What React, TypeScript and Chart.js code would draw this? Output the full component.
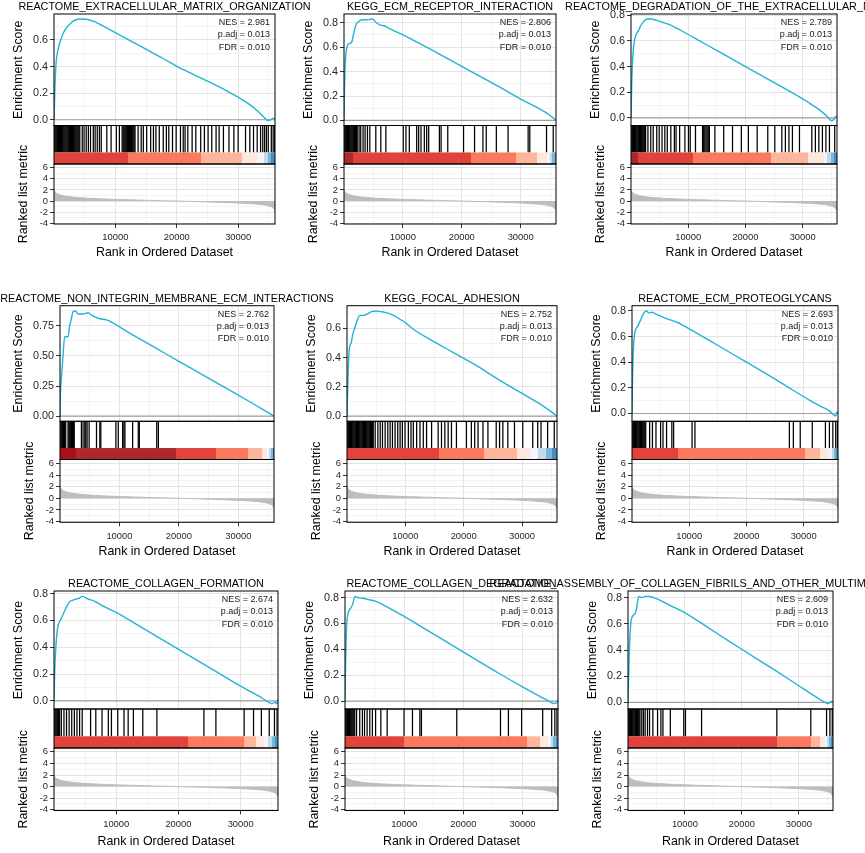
import { useEffect, useRef } from 'react'
import Chart from 'chart.js/auto'

const FONT = "'Liberation Sans', Arial, Helvetica, sans-serif"
Chart.defaults.font.family = FONT

const N_GENES = 36000

const TITLES = [
  'REACTOME_EXTRACELLULAR_MATRIX_ORGANIZATION',
  'KEGG_ECM_RECEPTOR_INTERACTION',
  'REACTOME_DEGRADATION_OF_THE_EXTRACELLULAR_MATRIX',
  'REACTOME_NON_INTEGRIN_MEMBRANE_ECM_INTERACTIONS',
  'KEGG_FOCAL_ADHESION',
  'REACTOME_ECM_PROTEOGLYCANS',
  'REACTOME_COLLAGEN_FORMATION',
  'REACTOME_COLLAGEN_DEGRADATION',
  'REACTOME_ASSEMBLY_OF_COLLAGEN_FIBRILS_AND_OTHER_MULTIMERIC_STRUCTURES',
]
const NES = ['2.981', '2.806', '2.789', '2.762', '2.752', '2.693', '2.674', '2.632', '2.609']
const P_ADJ = ['0.013', '0.013', '0.013', '0.013', '0.013', '0.013', '0.013', '0.013', '0.013']
const FDR = ['0.010', '0.010', '0.010', '0.010', '0.010', '0.010', '0.010', '0.010', '0.010']

// x grid positions (minor + major) and the labelled ones
const X_GRID = [5000, 10000, 15000, 20000, 25000, 30000, 35000]
const X_LABELS = [10000, 20000, 30000]
const RANK_LABELS = [-4, -2, 0, 2, 4, 6]

// running enrichment score [rank, ES]
const esP1 = [[0, 0], [160, 0.25], [330, 0.42], [540, 0.5], [820, 0.56], [1100, 0.6], [1600, 0.66], [2200, 0.7], [2800, 0.73], [3500, 0.75], [4300, 0.757], [5200, 0.756], [6500, 0.74], [8200, 0.7], [10000, 0.655], [12000, 0.605], [14000, 0.555], [16000, 0.505], [18000, 0.455], [20100, 0.4], [22500, 0.345], [25000, 0.29], [27000, 0.245], [28800, 0.2], [30500, 0.155], [32000, 0.11], [33300, 0.06], [34300, 0.015], [34800, -0.005], [35300, 0.0], [35700, 0.012], [36000, 0.0]]
const esP2 = [[0, 0], [100, 0.3], [250, 0.5], [500, 0.6], [900, 0.63], [1300, 0.64], [1600, 0.7], [2000, 0.78], [2500, 0.81], [3000, 0.825], [4000, 0.825], [4800, 0.83], [5500, 0.8], [6200, 0.78], [6800, 0.775], [8000, 0.745], [10000, 0.7], [14000, 0.6], [18000, 0.495], [22000, 0.39], [26000, 0.285], [30000, 0.175], [33000, 0.1], [35000, 0.04], [36000, 0.0]]
const esP3 = [[0, 0], [150, 0.3], [350, 0.5], [600, 0.6], [900, 0.65], [1300, 0.68], [1700, 0.72], [2200, 0.75], [2800, 0.77], [3500, 0.77], [4500, 0.76], [5500, 0.745], [6500, 0.73], [7500, 0.71], [9000, 0.675], [12000, 0.6], [16000, 0.5], [20000, 0.4], [24000, 0.3], [28000, 0.2], [31000, 0.12], [33000, 0.06], [34300, 0.01], [35000, -0.02], [35500, -0.01], [35800, 0.012], [36000, 0.005]]
const esP4 = [[0, 0], [60, 0.17], [225, 0.31], [500, 0.5], [790, 0.66], [1350, 0.66], [1630, 0.75], [1910, 0.81], [2200, 0.87], [2650, 0.875], [3040, 0.85], [3880, 0.85], [4730, 0.86], [5290, 0.84], [6700, 0.81], [7830, 0.8], [12000, 0.682], [16000, 0.569], [20000, 0.456], [24000, 0.343], [28000, 0.23], [32000, 0.117], [36000, 0.0]]
const esP5 = [[0, 0], [200, 0.3], [400, 0.46], [700, 0.5], [1000, 0.56], [1300, 0.6], [1700, 0.65], [2200, 0.69], [3000, 0.69], [3500, 0.7], [4200, 0.715], [5000, 0.72], [5800, 0.715], [6500, 0.71], [7000, 0.705], [8000, 0.69], [9000, 0.665], [10000, 0.64], [11200, 0.6], [14000, 0.53], [18000, 0.44], [22000, 0.35], [26000, 0.25], [30000, 0.155], [33000, 0.085], [35000, 0.03], [36000, 0.0]]
const esP6 = [[0, 0], [100, 0.3], [300, 0.55], [600, 0.65], [1000, 0.68], [1500, 0.73], [2000, 0.78], [2500, 0.8], [3000, 0.785], [3500, 0.79], [4000, 0.78], [5000, 0.76], [6000, 0.74], [7000, 0.725], [8000, 0.71], [9000, 0.685], [12000, 0.61], [16000, 0.505], [20000, 0.4], [24000, 0.295], [28000, 0.185], [31000, 0.105], [33000, 0.055], [34500, 0.02], [35200, -0.01], [35600, -0.02], [35800, 0.01], [36000, 0.01]]
const esP7 = [[0, 0], [100, 0.2], [300, 0.4], [600, 0.55], [1000, 0.6], [1500, 0.65], [2000, 0.7], [2500, 0.74], [3000, 0.75], [3500, 0.76], [4000, 0.765], [4500, 0.78], [5500, 0.76], [6500, 0.745], [8000, 0.705], [10000, 0.66], [14000, 0.55], [18000, 0.44], [22000, 0.33], [26000, 0.22], [30000, 0.11], [32000, 0.06], [33500, 0.02], [34500, -0.01], [35000, -0.02], [35500, -0.01], [35800, -0.02], [36000, 0.01]]
const esP8 = [[0, 0], [100, 0.3], [300, 0.6], [700, 0.7], [1000, 0.72], [1300, 0.75], [1700, 0.81], [2200, 0.8], [3000, 0.795], [4000, 0.785], [5000, 0.775], [6000, 0.755], [7000, 0.73], [10000, 0.655], [14000, 0.545], [18000, 0.435], [22000, 0.325], [26000, 0.215], [30000, 0.11], [33000, 0.035], [34500, 0.0], [35300, -0.02], [35700, -0.015], [36000, 0.01]]
const esP9 = [[0, 0], [236, 0.39], [472, 0.6], [708, 0.65], [1240, 0.68], [1530, 0.72], [1710, 0.78], [1950, 0.81], [2420, 0.8], [3000, 0.81], [3600, 0.81], [4480, 0.8], [5660, 0.78], [7430, 0.74], [9800, 0.69], [14000, 0.573], [18000, 0.46], [22000, 0.35], [26000, 0.24], [30000, 0.127], [32000, 0.07], [34570, 0.0], [35160, -0.01], [35750, 0.008], [36000, 0.005]]
const ES_CURVES = [esP1, esP2, esP3, esP4, esP5, esP6, esP7, esP8, esP9]

// gene-set hit positions (rank)
const hitsP1 = [0, 150, 300, 450, 600, 750, 900, 1050, 1200, 1350, 1500, 1650, 1800, 1950, 2100, 2250, 2400, 2550, 2700, 2850, 3000, 3150, 3300, 3450, 3600, 3750, 3900, 4050, 4200, 4600, 4900, 5250, 5600, 5950, 6400, 6700, 7050, 7400, 7700, 8600, 9300, 10150, 10650, 11100, 11250, 11400, 11550, 11700, 11850, 12000, 12150, 12300, 12450, 12600, 12750, 12900, 13050, 13200, 13700, 14200, 14550, 15100, 15750, 16200, 16600, 17150, 17800, 18300, 18700, 19300, 19900, 20600, 21050, 21350, 21800, 22500, 23100, 23900, 24500, 25100, 25700, 26400, 26900, 27600, 28500, 29300, 30000, 31200, 31900, 32500, 33100, 33650, 34000, 34300, 34600, 34900, 35400, 35700, 35950]
const hitsP2 = [0, 150, 300, 450, 600, 750, 900, 1050, 1200, 1350, 1500, 1650, 1800, 1950, 2100, 2250, 2560, 2840, 3240, 3580, 3980, 4380, 5400, 6250, 7110, 10060, 10520, 11090, 12340, 12680, 13080, 13640, 14040, 14380, 16200, 16490, 17620, 20300, 22170, 23590, 24160, 25870, 27860, 31270, 31550, 34390, 35530]
const hitsP3 = [0, 150, 300, 450, 600, 750, 900, 1050, 1200, 1350, 1500, 1650, 1800, 1950, 2100, 2250, 2400, 2550, 2960, 3450, 3880, 4500, 4930, 5420, 5910, 6340, 6960, 7580, 7880, 8500, 9420, 10040, 10350, 11270, 12500, 12700, 12900, 13100, 13300, 13500, 13700, 14660, 16200, 17740, 19280, 20510, 22050, 23900, 25130, 26360, 26980, 27600, 28210, 29440, 31600, 32220, 32830, 33450, 34060, 34680, 35600]
const hitsP4 = [0, 150, 300, 450, 600, 750, 960, 1350, 1500, 1650, 1800, 1950, 2100, 2250, 2400, 3600, 3880, 4170, 4340, 4560, 4900, 6140, 6700, 6870, 9400, 9800, 10530, 10750, 10920, 12220, 13170, 13340, 16270, 16550]
const hitsP5 = [0, 150, 300, 450, 600, 750, 900, 1050, 1200, 1350, 1500, 1650, 1800, 1950, 2100, 2250, 2400, 2550, 2700, 2850, 3000, 3150, 3300, 3450, 3600, 3750, 3900, 4050, 4200, 4350, 4500, 4830, 5290, 5690, 6080, 6540, 6990, 7390, 7790, 8240, 8700, 9100, 9490, 9950, 10520, 10970, 11370, 11940, 12510, 13080, 13640, 14500, 15630, 16200, 16770, 17340, 17910, 18760, 20470, 21320, 21890, 22460, 23310, 24160, 25580, 26150, 26720, 27570, 28710, 30130, 31840, 32690, 33260, 34390, 35530]
const hitsP6 = [0, 150, 300, 450, 600, 750, 900, 1050, 1200, 1350, 1500, 1650, 1800, 1950, 2100, 2250, 2400, 3080, 3570, 4190, 5000, 5420, 6040, 6960, 7270, 10500, 11000, 27500, 28200, 29400, 31500, 33800, 34500, 35100, 35600, 35900]
const hitsP7 = [0, 150, 300, 450, 600, 750, 900, 1180, 1600, 2010, 2430, 2850, 3270, 3690, 4110, 4530, 5880, 6720, 7720, 8730, 9230, 10240, 11250, 11920, 12760, 14270, 16540, 24090, 26020, 30560, 32070, 33330, 34590, 35430, 35850]
const hitsP8 = [0, 150, 300, 450, 600, 750, 900, 1050, 1200, 1350, 1500, 1650, 1960, 2490, 2940, 3300, 3740, 4190, 4630, 5170, 6060, 7130, 9980, 11400, 12650, 12920, 18890, 26280, 27620, 29850, 33410, 34930, 35460, 35820]
const hitsP9 = [0, 150, 300, 450, 600, 750, 900, 1050, 1200, 1350, 1500, 1650, 1800, 1950, 2100, 2420, 2710, 3010, 3420, 3780, 4370, 5190, 5780, 6140, 7430, 9790, 10090, 12920, 26140, 32100, 34870, 35460, 35870]
const HITS = [hitsP1, hitsP2, hitsP3, hitsP4, hitsP5, hitsP6, hitsP7, hitsP8, hitsP9]

// colour bar bands: [from rank, to rank, palette index]
const PALETTE = ['#08519C', '#3182BD', '#6BAED6', '#BDD7E7', '#EFF3FF', '#FEE5D9', '#FCAE91', '#FB6A4A', '#DE2D26', '#A50F15']
const bandsP1 = [[0, 12100, 8], [12100, 23900, 7], [23900, 30700, 6], [30700, 33100, 5], [33100, 34200, 4], [34200, 34800, 3], [34800, 35300, 2], [35300, 36000, 1]]
const bandsP2 = [[0, 1600, 9], [1600, 21600, 8], [21600, 29200, 7], [29200, 32700, 6], [32700, 34400, 5], [34400, 34900, 4], [34900, 35400, 3], [35400, 35800, 2], [35800, 36000, 1]]
const bandsP3 = [[0, 1150, 9], [1150, 10800, 8], [10800, 24500, 7], [24500, 31000, 6], [31000, 33700, 5], [33700, 34300, 4], [34300, 34900, 3], [34900, 35500, 2], [35500, 36000, 1]]
const bandsP4 = [[0, 2650, 9], [0, 19500, 9], [19500, 26300, 8], [26300, 31700, 7], [31700, 33900, 6], [33900, 34800, 5], [34800, 35200, 4], [35200, 35500, 3], [35500, 35800, 2], [35800, 36000, 1]]
const bandsP5 = [[0, 15800, 8], [15800, 23400, 7], [23400, 29200, 6], [29200, 31400, 5], [31400, 32700, 4], [32700, 34100, 3], [34100, 35100, 2], [35100, 36000, 1]]
const bandsP6 = [[0, 8100, 8], [8100, 30200, 7], [30200, 32900, 6], [32900, 34300, 5], [34300, 34900, 4], [34900, 35300, 3], [35300, 35700, 2], [35700, 36000, 1]]
const bandsP7 = [[0, 21600, 8], [21600, 30600, 7], [30600, 32500, 6], [32500, 33750, 5], [33750, 34400, 4], [34400, 35000, 3], [35000, 35500, 2], [35500, 36000, 1]]
const bandsP8 = [[0, 9980, 8], [9980, 30750, 7], [30750, 33000, 6], [33000, 34300, 5], [34300, 34800, 4], [34800, 35200, 3], [35200, 35600, 2], [35600, 36000, 1]]
const bandsP9 = [[0, 26100, 8], [26100, 32200, 7], [32200, 33700, 6], [33700, 34600, 5], [34600, 35000, 4], [35000, 35300, 3], [35300, 35650, 2], [35650, 36000, 1]]
const BANDS = [bandsP1, bandsP2, bandsP3, bandsP4, bandsP5, bandsP6, bandsP7, bandsP8, bandsP9]

// ranked list metric, shared by all panels
const RANKED_METRIC = [[0, 2.0], [100, 1.75], [300, 1.5], [600, 1.3], [1000, 1.12], [1500, 0.97], [2000, 0.87], [3000, 0.73], [4000, 0.63], [5000, 0.55], [6000, 0.48], [8000, 0.38], [10000, 0.3], [12500, 0.22], [15000, 0.14], [17500, 0.07], [20000, 0.0], [22500, -0.07], [25000, -0.15], [27500, -0.24], [30000, -0.35], [32000, -0.47], [33500, -0.6], [34500, -0.75], [35200, -0.95], [35600, -1.15], [35850, -1.45], [36000, -1.75]]
const RANK_MIN = -4.13
const RANK_MAX = 6.67

// layout (page pixels)
const CELL_X = [0, 288, 577]
const CELL_W = [288, 289, 288]
const CELL_Y = [0, 285, 570]
const CELL_H = [285, 285, 283]
const PLOT_X = [[54, 275], [344, 556], [631, 837], [60, 274], [347, 557], [632, 838], [54, 278], [345, 558], [628, 833]]
const ROWS = [
  { title: 6, esTop: 14, hitTop: 125.5, rankTop: 164, rankBottom: 224, xTitle: 253 },
  { title: 298.3, esTop: 305.7, hitTop: 421.3, rankTop: 459.5, rankBottom: 522.3, xTitle: 552 },
  { title: 583, esTop: 591, hitTop: 709, rankTop: 748, rankBottom: 810.5, xTitle: 842 },
]
const ES_DECIMALS = [1, 1, 1, 2, 1, 1, 1, 1, 1]

const ES_COLOR = '#20B4D6'
const METRIC_GREY = '#BDBDBD'
const TICK_TEXT = '#262626'
const AXIS_TITLE_SIZE = 12.4

function gridOpts(isMajor: (v: number) => boolean) {
  const major = (c: any) => c.tick && isMajor(c.tick.value)
  return {
    offset: false,
    color: (c: any) => (major(c) ? '#E3E3E3' : '#EFEFEF'),
    lineWidth: (c: any) => (major(c) ? 1 : 0.7),
    tickColor: (c: any) => (major(c) ? '#333333' : 'rgba(0,0,0,0)'),
    tickLength: 4,
    tickWidth: 1,
    drawTicks: true,
  }
}

function GseaPanel({ index }: { index: number }) {
  const canvasRef = useRef<HTMLCanvasElement>(null)
  const col = index % 3
  const row = Math.floor(index / 3)
  const cx = CELL_X[col]
  const cy = CELL_Y[row]
  const cw = CELL_W[col]
  const ch = CELL_H[row]

  useEffect(() => {
    if (!canvasRef.current) return
    const L = ROWS[row]
    const [plotLeft, plotRight] = PLOT_X[index]
    const es = ES_CURVES[index]
    const esVals = es.map(p => p[1])
    const lo = Math.min(...esVals)
    const hi = Math.max(...esVals)
    const pad = (hi - lo) * 0.05
    const twoDec = ES_DECIMALS[index] === 2
    const esStep = twoDec ? 0.125 : 0.1
    const esMajor = (v: number) => Math.round(v / esStep) % 2 === 0
    const rankMajor = (v: number) => RANK_LABELS.includes(Math.round(v))
    const xMajor = (v: number) => X_LABELS.some(t => Math.abs(Number(v) - t) < 1)

    const axisW = plotLeft - cx
    const xAxisH = cy + ch - L.rankBottom
    const lh = AXIS_TITLE_SIZE * 1.2
    const esTitleX = axisW - (twoDec ? 41.7 : 35.7)
    const rankTitleX = axisW - 30.2
    const fixW = (s: any) => { s.width = axisW }

    const decor = {
      id: 'gseaDecor',
      beforeDatasetsDraw(chart: any) {
        const { ctx, chartArea: a, scales } = chart
        const yHit = scales.yHit
        ctx.save()
        ctx.fillStyle = '#ffffff'
        ctx.fillRect(a.left, yHit.top, a.right - a.left, yHit.bottom - yHit.top)
        const y0 = scales.yES.getPixelForValue(0)
        ctx.strokeStyle = '#A0A0A0'
        ctx.lineWidth = 1.2
        ctx.beginPath()
        ctx.moveTo(a.left, y0)
        ctx.lineTo(a.right, y0)
        ctx.stroke()
        ctx.restore()
      },
      afterDatasetsDraw(chart: any) {
        const { ctx, chartArea: a, scales } = chart
        const yHit = scales.yHit
        const top = yHit.getPixelForValue(0.3)
        const bottom = yHit.getPixelForValue(0)
        ctx.save()
        ctx.fillStyle = '#ffffff'
        ctx.fillRect(a.left, top, a.right - a.left, bottom - top)
        ctx.globalAlpha = 0.9
        for (const [from, to, ci] of BANDS[index]) {
          const x0 = Math.round(scales.x.getPixelForValue(from))
          const x1 = Math.round(scales.x.getPixelForValue(to))
          ctx.fillStyle = PALETTE[ci]
          ctx.fillRect(x0, top, x1 - x0, bottom - top)
        }
        ctx.restore()
      },
      afterDraw(chart: any) {
        const { ctx, chartArea: a, scales } = chart
        ctx.save()
        ctx.strokeStyle = '#000000'
        ctx.lineWidth = 1
        for (const id of ['yES', 'yHit', 'yRank']) {
          const s = scales[id]
          ctx.strokeRect(a.left, s.top, a.right - a.left, s.bottom - s.top)
        }
        // annotation
        ctx.fillStyle = '#1a1a1a'
        ctx.font = `9px ${FONT}`
        ctx.textAlign = 'right'
        ctx.textBaseline = 'middle'
        const lines = [`NES = ${NES[index]}`, `p.adj = ${P_ADJ[index]}`, `FDR = ${FDR[index]}`]
        lines.forEach((t, i) => ctx.fillText(t, a.right - 5, scales.yES.top + 8.5 + i * 12.4))
        // ranked axis title (overflows its panel, so drawn by hand)
        const yr = scales.yRank
        ctx.fillStyle = '#000000'
        ctx.font = `${AXIS_TITLE_SIZE}px ${FONT}`
        ctx.textAlign = 'center'
        ctx.translate(rankTitleX, (yr.top + yr.bottom) / 2)
        ctx.rotate(-Math.PI / 2)
        ctx.fillText('Ranked list metric', 0, 0)
        ctx.restore()
      },
    }

    const chart = new Chart(canvasRef.current, {
      type: 'line',
      data: {
        datasets: [
          {
            type: 'line',
            label: 'Running ES',
            data: es.map(([x, y]) => ({ x, y })),
            yAxisID: 'yES',
            borderColor: ES_COLOR,
            borderWidth: 1.4,
            pointRadius: 0,
            cubicInterpolationMode: 'monotone',
            fill: false,
          },
          {
            type: 'bar',
            label: 'Hits',
            data: HITS[index].map(x => ({ x, y: [0, 1] })),
            yAxisID: 'yHit',
            backgroundColor: '#000000',
            borderWidth: 0,
            barThickness: 1.25,
            inflateAmount: 0,
          },
          {
            type: 'line',
            label: 'Ranked list metric',
            data: RANKED_METRIC.map(([x, y]) => ({ x, y })),
            yAxisID: 'yRank',
            borderColor: METRIC_GREY,
            backgroundColor: METRIC_GREY,
            borderWidth: 1,
            pointRadius: 0,
            cubicInterpolationMode: 'monotone',
            fill: { value: 0 },
          },
        ] as any,
      },
      options: {
        animation: false,
        responsive: true,
        maintainAspectRatio: false,
        events: [],
        layout: { padding: { left: 0, top: L.esTop - cy, right: cx + cw - plotRight, bottom: 0 } },
        plugins: { legend: { display: false }, tooltip: { enabled: false } },
        scales: {
          x: {
            type: 'linear',
            position: 'bottom',
            offset: false,
            min: 0,
            max: N_GENES,
            afterFit: (s: any) => { s.height = xAxisH },
            afterBuildTicks: (s: any) => { s.ticks = X_GRID.map(value => ({ value })) },
            border: { display: false },
            grid: gridOpts(xMajor),
            ticks: {
              autoSkip: false,
              maxRotation: 0,
              minRotation: 0,
              padding: 4,
              color: TICK_TEXT,
              font: { size: 9.4 },
              callback: (v: any) => (xMajor(v) ? String(Math.round(v)) : ''),
            },
            title: {
              display: true,
              text: 'Rank in Ordered Dataset',
              color: '#000000',
              font: { size: AXIS_TITLE_SIZE },
              padding: { top: 0, bottom: ch - (L.xTitle - cy) - lh / 2 },
            },
          },
          yES: {
            type: 'linear',
            position: 'left',
            stack: 'gsea',
            stackWeight: L.hitTop - L.esTop,
            weight: 3,
            min: lo - pad,
            max: hi + pad,
            afterFit: fixW,
            border: { display: false },
            grid: gridOpts(esMajor),
            ticks: {
              stepSize: esStep,
              includeBounds: false,
              autoSkip: false,
              maxTicksLimit: 100,
              padding: 2,
              color: TICK_TEXT,
              font: { size: 10.8 },
              callback: (v: any) => (esMajor(v) ? Number(v).toFixed(ES_DECIMALS[index]) : ''),
            },
            title: {
              display: true,
              text: 'Enrichment Score',
              color: '#000000',
              font: { size: AXIS_TITLE_SIZE },
              padding: { top: esTitleX - lh / 2, bottom: 0 },
            },
          },
          yHit: {
            type: 'linear',
            position: 'left',
            stack: 'gsea',
            stackWeight: L.rankTop - L.hitTop,
            weight: 2,
            min: 0,
            max: 1,
            afterFit: fixW,
            border: { display: false },
            grid: { display: false },
            ticks: { display: false },
          },
          yRank: {
            type: 'linear',
            position: 'left',
            stack: 'gsea',
            stackWeight: L.rankBottom - L.rankTop,
            weight: 1,
            min: RANK_MIN,
            max: RANK_MAX,
            afterFit: fixW,
            border: { display: false },
            grid: gridOpts(rankMajor),
            ticks: {
              stepSize: 1,
              includeBounds: false,
              autoSkip: false,
              maxTicksLimit: 100,
              padding: 2,
              color: TICK_TEXT,
              font: { size: 9.4 },
              callback: (v: any) => (rankMajor(v) ? String(Math.round(v)) : ''),
            },
          },
        } as any,
      },
      plugins: [decor],
    })

    return () => {
      chart.destroy()
    }
  }, [index, row, cx, cy, cw, ch])

  return (
    <div style={{ position: 'absolute', left: cx, top: cy, width: cw, height: ch }}>
      <canvas ref={canvasRef} />
    </div>
  )
}

export default function App() {
  return (
    <div
      style={{
        position: 'fixed',
        left: 0,
        top: 0,
        width: 865,
        height: 853,
        overflow: 'hidden',
        background: '#ffffff',
        fontFamily: FONT,
      }}
    >
      {TITLES.map((_, i) => (
        <GseaPanel key={i} index={i} />
      ))}
      {TITLES.map((t, i) => {
        const [l, r] = PLOT_X[i]
        return (
          <div
            key={'t' + i}
            style={{
              position: 'absolute',
              left: (l + r) / 2,
              top: ROWS[Math.floor(i / 3)].title,
              transform: 'translate(-50%, -50%)',
              whiteSpace: 'nowrap',
              fontSize: 10.8,
              lineHeight: '13px',
              color: '#000000',
            }}
          >
            {t}
          </div>
        )
      })}
    </div>
  )
}
